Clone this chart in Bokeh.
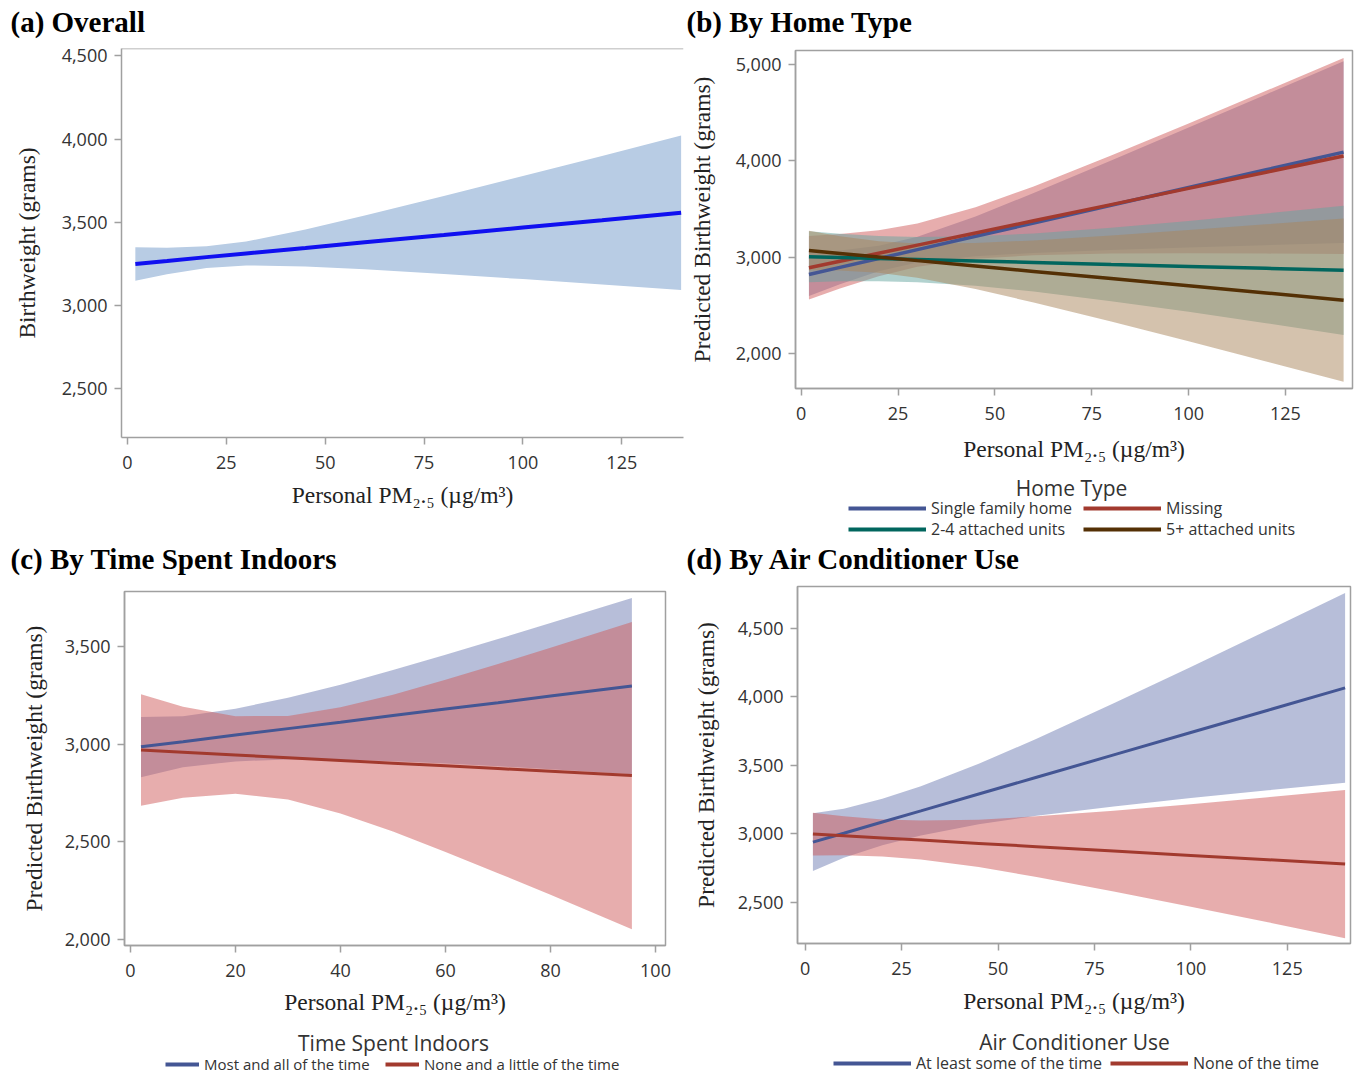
from bokeh.plotting import figure
from bokeh.models import Range1d, FixedTicker, NumeralTickFormatter, Legend, LegendItem, Span, Label
from bokeh.layouts import column, row
from bokeh.embed import file_html
from bokeh.resources import INLINE

# ---------------- data ----------------
# (a) Overall
a_x = [2, 10, 20, 30, 45, 60, 80, 100, 120, 140]
a_fit = [3249, 3267, 3290, 3312, 3345, 3379, 3423, 3468, 3512, 3557]
a_lower = [3148, 3187, 3225, 3240, 3234, 3217, 3188, 3158, 3125, 3093]
a_upper = [3350, 3347, 3355, 3384, 3456, 3541, 3658, 3778, 3899, 4021]

# (b) By Home Type
b_x = [2, 10, 20, 30, 45, 60, 80, 100, 120, 140]
single_fit = [2820, 2893, 2985, 3077, 3215, 3353, 3537, 3721, 3905, 4088]
single_lo = [2595, 2718, 2852, 2944, 3009, 3042, 3073, 3099, 3123, 3145]
single_hi = [3045, 3068, 3118, 3210, 3421, 3664, 4001, 4343, 4687, 5031]
missing_fit = [2889, 2956, 3040, 3124, 3250, 3376, 3544, 3712, 3880, 4048]
missing_lo = [2559, 2674, 2801, 2899, 2983, 3019, 3036, 3039, 3036, 3031]
missing_hi = [3219, 3238, 3279, 3349, 3517, 3733, 4052, 4385, 4724, 5065]
att24_fit = [3003, 2995, 2984, 2974, 2959, 2944, 2923, 2903, 2883, 2862]
att24_lo = [2738, 2748, 2749, 2739, 2702, 2643, 2543, 2432, 2314, 2192]
att24_hi = [3268, 3242, 3219, 3209, 3216, 3245, 3303, 3374, 3452, 3532]
att5_fit = [3068, 3038, 3001, 2963, 2907, 2851, 2777, 2703, 2628, 2553]
att5_lo = [2862, 2860, 2837, 2785, 2669, 2529, 2331, 2126, 1917, 1707]
att5_hi = [3274, 3216, 3165, 3141, 3145, 3173, 3223, 3280, 3339, 3399]

# (c) By Time Spent Indoors
c_x = [2, 10, 20, 30, 40, 50, 60, 70, 80, 95.5]
most_fit = [2987, 3013, 3047, 3080, 3113, 3147, 3180, 3213, 3247, 3298]
most_lo = [2830, 2882, 2912, 2922, 2921, 2913, 2901, 2887, 2872, 2846]
most_hi = [3140, 3144, 3182, 3238, 3305, 3381, 3459, 3539, 3622, 3750]
none_fit = [2970, 2959, 2945, 2931, 2917, 2903, 2889, 2875, 2861, 2839]
none_lo = [2684, 2726, 2746, 2717, 2645, 2552, 2448, 2339, 2228, 2051]
none_hi = [3256, 3192, 3144, 3145, 3189, 3254, 3330, 3411, 3494, 3627]

# (d) By Air Conditioner Use
d_x = [2, 10, 20, 30, 45, 60, 80, 100, 120, 140]
some_fit = [2940, 3005, 3087, 3168, 3291, 3413, 3576, 3739, 3902, 4065]
some_lo = [2730, 2826, 2917, 2989, 3071, 3132, 3200, 3261, 3318, 3373]
some_hi = [3150, 3184, 3257, 3347, 3511, 3694, 3952, 4217, 4486, 4757]
nonet_fit = [2999, 2987, 2971, 2955, 2931, 2907, 2875, 2843, 2812, 2780]
nonet_lo = [2843, 2845, 2836, 2813, 2758, 2686, 2581, 2469, 2356, 2240]
nonet_hi = [3155, 3129, 3106, 3097, 3104, 3128, 3169, 3217, 3268, 3320]

x_ticks_140 = [0, 25, 50, 75, 100, 125]
x_ticks_100 = [0, 20, 40, 60, 80, 100]
a_yticks = [2500, 3000, 3500, 4000, 4500]
b_yticks = [2000, 3000, 4000, 5000]
c_yticks = [2000, 2500, 3000, 3500]
d_yticks = [2500, 3000, 3500, 4000, 4500]

XLABEL = "Personal PM\u2082.\u2085 (\u00b5g/m\u00b3)"

BLUE_L = "#445694"; RED_L = "#A23A2E"; TEAL_L = "#01665E"; BROWN_L = "#543005"
BLUE_F = "#6F7EB3"; RED_F = "#D05B5B"; TEAL_F = "#66A5A0"; BROWN_F = "#A9865B"
GRAY = "#A0A0A0"
SANS = "Open Sans"
SERIF = "Liberation Serif"


def base(width, height, bl, br, bt, bb, xr, yr, xt, yt, ylab, ystand, xstand, outline=True):
    p = figure(width=width, height=height, x_range=Range1d(*xr), y_range=Range1d(*yr),
               output_backend="svg", toolbar_location=None,
               min_border_left=bl, min_border_right=br, min_border_top=bt, min_border_bottom=bb)
    p.frame_align = False
    p.xgrid.visible = False
    p.ygrid.visible = False
    p.outline_line_color = GRAY if outline else None
    p.outline_line_width = 1.5
    for ax in (p.xaxis[0], p.yaxis[0]):
        ax.axis_line_color = GRAY
        ax.axis_line_width = 1.5
        ax.major_tick_line_color = GRAY
        ax.major_tick_line_width = 1.5
        ax.major_tick_out = 7
        ax.major_tick_in = 0
        ax.minor_tick_line_color = None
        ax.major_label_text_font = SANS
        ax.major_label_text_font_size = "18px"
        ax.major_label_text_color = "#333333"
        ax.major_label_standoff = 7
        ax.axis_label_text_font = SERIF
        ax.axis_label_text_font_size = "23.5px"
        ax.axis_label_text_font_style = "normal"
        ax.axis_label_text_color = "#222222"
    p.xaxis.major_label_standoff = 11
    p.xaxis.ticker = FixedTicker(ticks=xt)
    p.yaxis.ticker = FixedTicker(ticks=yt)
    p.yaxis.formatter = NumeralTickFormatter(format="0,0")
    p.xaxis.axis_label = XLABEL
    p.yaxis.axis_label = ylab
    p.yaxis.axis_label_standoff = ystand
    p.xaxis.axis_label_standoff = xstand
    return p


def strip(width, height):
    f = figure(width=width, height=height, x_range=Range1d(0, width), y_range=Range1d(0, height),
               output_backend="svg", toolbar_location=None, x_axis_type=None, y_axis_type=None,
               min_border=0, min_border_left=0, min_border_right=0, min_border_top=0,
               min_border_bottom=0)
    f.frame_align = False
    f.outline_line_color = None
    f.xgrid.visible = False
    f.ygrid.visible = False
    return f


def title_strip(width, height, text, x, y):
    f = strip(width, height)
    f.add_layout(Label(x=x, y=y, x_units="screen", y_units="screen", text=text,
                       text_font=SERIF, text_font_style="bold", text_font_size="29px",
                       text_color="black", text_baseline="alphabetic", text_align="left"))
    return f


def legend_strip(width, height, title_text, tx, ty, entries, gw, fs):
    # entries: (label, color, series x, series y, legend x, legend y)
    f = strip(width, height)
    f.add_layout(Label(x=tx, y=ty, x_units="screen", y_units="screen", text=title_text,
                       text_font=SANS, text_font_size="21px", text_color="#333333",
                       text_baseline="middle", text_align="center"))
    for lab, col, sx, sy, lx, ly in entries:
        # the series itself, out of this strip's view; only its legend sample shows
        r = f.line(x=sx, y=sy, line_color=col, line_width=4)
        leg = Legend(items=[LegendItem(label=lab, renderers=[r])], location=(lx, ly),
                     orientation="vertical", glyph_width=gw, glyph_height=20, label_height=20,
                     label_standoff=5, spacing=0, padding=0, margin=0, border_line_color=None,
                     background_fill_alpha=0, label_text_font=SANS,
                     label_text_font_size=fs, label_text_color="#333333")
        f.add_layout(leg, "center")
    return f


# ---------------- (a) ----------------
ta = title_strip(684, 40, "(a) Overall", 10, 19)
pa = base(684, 500, 121, 1, 8, 103, (-1.5, 140.6), (2205, 4545), x_ticks_140, a_yticks,
          "Birthweight (grams)", 19, 10, outline=False)
pa.add_layout(Span(location=4545, dimension="width", line_color=GRAY, line_width=1.5))
pa.varea(x=a_x, y1=a_lower, y2=a_upper, fill_color="#B8CCE4", fill_alpha=1.0)
pa.line(a_x, a_fit, line_color="#1010F0", line_width=4)

# ---------------- (b) ----------------
tb = title_strip(673, 40, "(b) By Home Type", 2, 19)
pb = base(673, 428, 111, 5, 10, 80, (-1.47, 142.3), (1637, 5142), x_ticks_140, b_yticks,
          "Predicted Birthweight (grams)", 18, 13)
pb.varea(x=b_x, y1=single_lo, y2=single_hi, fill_color=BLUE_F, fill_alpha=0.5)
pb.varea(x=b_x, y1=missing_lo, y2=missing_hi, fill_color=RED_F, fill_alpha=0.5)
pb.varea(x=b_x, y1=att24_lo, y2=att24_hi, fill_color=TEAL_F, fill_alpha=0.5)
pb.varea(x=b_x, y1=att5_lo, y2=att5_hi, fill_color=BROWN_F, fill_alpha=0.5)
pb.line(b_x, single_fit, line_color=BLUE_L, line_width=3.5)
pb.line(b_x, missing_fit, line_color=RED_L, line_width=3.5)
pb.line(b_x, att24_fit, line_color=TEAL_L, line_width=3.5)
pb.line(b_x, att5_fit, line_color=BROWN_L, line_width=3.5)
lb = legend_strip(673, 72, "Home Type", 387, 53,
                  [("Single family home", BLUE_L, b_x, single_fit, 164, 21),
                   ("2-4 attached units", TEAL_L, b_x, att24_fit, 164, 0),
                   ("Missing", RED_L, b_x, missing_fit, 399, 21),
                   ("5+ attached units", BROWN_L, b_x, att5_fit, 399, 0)], 78, "16px")

# ---------------- (c) ----------------
tc = title_strip(684, 44, "(c) By Time Spent Indoors", 10, 26)
pc = base(684, 438, 124, 19, 7, 77, (-1.14, 101.9), (1968, 3783), x_ticks_100, c_yticks,
          "Predicted Birthweight (grams)", 15, 9)
pc.varea(x=c_x, y1=most_lo, y2=most_hi, fill_color=BLUE_F, fill_alpha=0.5)
pc.varea(x=c_x, y1=none_lo, y2=none_hi, fill_color=RED_F, fill_alpha=0.5)
pc.line(c_x, most_fit, line_color=BLUE_L, line_width=3)
pc.line(c_x, none_fit, line_color=RED_L, line_width=3)
lc = legend_strip(684, 54, "Time Spent Indoors", 393, 34,
                  [("Most and all of the time", BLUE_L, c_x, most_fit, 165, 2),
                   ("None and a little of the time", RED_L, c_x, none_fit, 385, 2)], 34, "15px")

# ---------------- (d) ----------------
td = title_strip(673, 44, "(d) By Air Conditioner Use", 2, 26)
pd_ = base(673, 436, 113, 7, 2, 77, (-2.0, 141.4), (2201, 4804), x_ticks_140, d_yticks,
           "Predicted Birthweight (grams)", 16, 10)
pd_.varea(x=d_x, y1=some_lo, y2=some_hi, fill_color=BLUE_F, fill_alpha=0.5)
pd_.varea(x=d_x, y1=nonet_lo, y2=nonet_hi, fill_color=RED_F, fill_alpha=0.5)
pd_.line(d_x, some_fit, line_color=BLUE_L, line_width=3)
pd_.line(d_x, nonet_fit, line_color=RED_L, line_width=3)
ld = legend_strip(673, 56, "Air Conditioner Use", 390, 35,
                  [("At least some of the time", BLUE_L, d_x, some_fit, 149, 2),
                   ("None of the time", RED_L, d_x, nonet_fit, 426, 2)], 78, "16px")

layout = column(row(column(ta, pa), column(tb, pb, lb)),
                row(column(tc, pc, lc), column(td, pd_, ld)))
open("out.html", "w").write(file_html(layout, INLINE))
